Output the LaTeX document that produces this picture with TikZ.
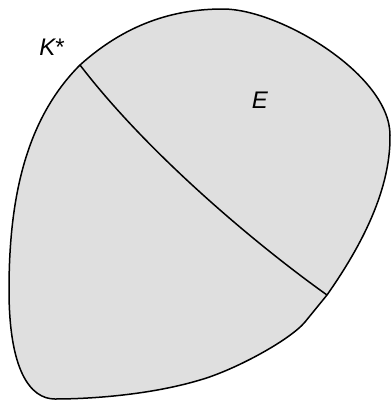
\documentclass[tikz,border=0pt]{standalone}
\usepackage{fontspec}
\setmainfont{Liberation Sans}
\definecolor{regionfill}{RGB}{223,223,223}
\tikzset{
  outline/.style={draw=black, line width=1.5pt, fill=regionfill, line join=round},
  cutline/.style={draw=black, line width=1.5pt},
  lbl/.style={font=\fontsize{24}{28}\selectfont\itshape, inner sep=0pt}
}
\begin{document}
\begin{tikzpicture}[x=1pt,y=-1pt]
\useasboundingbox (0,0) rectangle (391,400);
\coordinate (A) at (80,65);
\coordinate (T) at (223,9);
\coordinate (R) at (390,135);
\coordinate (C) at (327,295);
\coordinate (D) at (305,322);
\coordinate (M) at (200,380);
\coordinate (B) at (55,399);
\coordinate (L) at (9,290);
\path[outline] (A) .. controls (130,20) and (180,9) .. (T)
  .. controls (280,9) and (390,75) .. (R)
  .. controls (391,195) and (355,255) .. (C)
  -- (D)
  .. controls (290,340) and (235,370) .. (M)
  .. controls (150,395) and (90,399) .. (B)
  .. controls (30,399) and (9,370) .. (L)
  .. controls (9,200) and (25,120) .. (A) -- cycle;
\path[cutline] (A) .. controls (145,150) and (250,240) .. (C);
\node[lbl] (kstar) at (52,47) {K{\upshape *}};
\node[lbl] (e) at (260,100) {E};
\end{tikzpicture}
\end{document}
